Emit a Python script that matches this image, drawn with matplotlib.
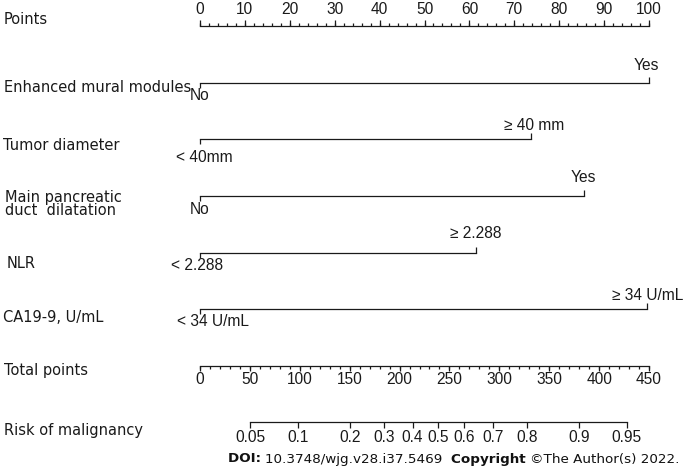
import numpy as np
import matplotlib.pyplot as plt

# nomogram content
points_ticks = np.arange(0, 101, 10)
variables = ["Enhanced mural modules", "Tumor diameter",
             "Main pancreatic\nduct  dilatation", "NLR", "CA19-9, U/mL"]
low_labels = ["No", "< 40mm", "No", "< 2.288", "< 34 U/mL"]
high_labels = ["Yes", "\u2265 40 mm", "Yes", "\u2265 2.288", "\u2265 34 U/mL"]
low_points = [0, 0, 0, 0, 0]
high_points = [100, 73.7, 85.5, 61.5, 99.5]
total_ticks = np.arange(0, 451, 50)
total_max = 450
risk_ticks = [0.05, 0.1, 0.2, 0.3, 0.4, 0.5, 0.6, 0.7, 0.8, 0.9, 0.95]
risk_labels = ["0.05", "0.1", "0.2", "0.3", "0.4", "0.5", "0.6", "0.7", "0.8", "0.9", "0.95"]
# total points = lp_center + lp_scale * logit(risk)
lp_center = 239.0
lp_scale = 64.1

# layout (pixel rows)
W, H = 683, 471
px0, px100 = 200, 649
row_y = [83, 139, 196, 253, 309]
top_dy = [-17, -14, -18, -19, -14]
bot_dy = [13, 19, 13, 13, 12]
low_dx = [0, 4, 0, -3, 13]
high_dx = [-3, 3, -1, 0, 1]
name_y = [88, 146, 204, 263, 317]
name_x = [4, 3, 5, 7, 3]

name_font = dict(family="DejaVu Sans", fontsize=10.5)
tick_font = dict(family="Liberation Sans", fontsize=11.2)
col = "#1a1a1a"
lw = 0.9

fig = plt.figure(figsize=(W / 100, H / 100), dpi=100)
ax = fig.add_axes([0, 0, 1, 1])
scale = (px100 - px0) / 100.0
ax.set_xlim(-px0 / scale, (W - px0) / scale)
ax.set_ylim(H, 0)
ax.axis("off")


def px(n):
    return n / scale


# Points axis
py = 26
ax.plot([0, 100], [py, py], color=col, lw=lw)
minor = np.arange(0, 101, 2)
ax.vlines(minor, py - 3, py, color=col, lw=lw)
ax.vlines(points_ticks, py - 6, py, color=col, lw=lw)
for t in points_ticks:
    ax.text(t, 9, str(t), ha="center", va="center", color=col, **tick_font)
ax.text(-px0 / scale + px(4), 20, "Points", ha="left", va="center", color=col, **name_font)

# variable rows
for i, name in enumerate(variables):
    y = row_y[i]
    lo, hi = low_points[i], high_points[i]
    ax.plot([lo, hi], [y, y], color=col, lw=lw)
    ax.vlines(lo, y, y + 5, color=col, lw=lw)
    ax.vlines(hi, y - 6, y, color=col, lw=lw)
    ax.text(lo + px(low_dx[i]), y + bot_dy[i], low_labels[i], ha="center", va="center",
            color=col, **tick_font)
    ax.text(hi + px(high_dx[i]), y + top_dy[i], high_labels[i], ha="center", va="center",
            color=col, **tick_font)
    ax.text(-px0 / scale + px(name_x[i]), name_y[i], name, ha="left", va="center",
            color=col, linespacing=0.9, **name_font)

# Total points axis
ty = 366
tconv = 100.0 / total_max
ax.plot([0, total_max * tconv], [ty, ty], color=col, lw=lw)
ax.vlines(np.arange(0, total_max + 1, 10) * tconv, ty, ty + 3, color=col, lw=lw)
ax.vlines(total_ticks * tconv, ty, ty + 5, color=col, lw=lw)
for t in total_ticks:
    ax.text(t * tconv, 380, str(t), ha="center", va="center", color=col, **tick_font)
ax.text(-px0 / scale + px(4), 371, "Total points", ha="left", va="center", color=col, **name_font)

# Risk axis
ry = 422
rp = np.array(risk_ticks)
rx = (lp_center + lp_scale * np.log(rp / (1 - rp))) * tconv
ax.plot([rx[0], rx[-1]], [ry, ry], color=col, lw=lw)
ax.vlines(rx, ry, ry + 6, color=col, lw=lw)
for x, lab in zip(rx, risk_labels):
    ax.text(x, 437, lab, ha="center", va="center", color=col, **tick_font)
ax.text(-px0 / scale + px(4), 431, "Risk of malignancy", ha="left", va="center", color=col, **name_font)

# source line, right aligned
pieces = [("\u00a9The Author(s) 2022.", "normal"), ("Copyright ", "bold"),
          ("10.3748/wjg.v28.i37.5469  ", "normal"), ("DOI: ", "bold")]
fig.canvas.draw()
r = fig.canvas.get_renderer()
xr = 680
for txt, wt in pieces:
    t = fig.text(xr / W, 1 - 459 / H, txt, ha="right", va="center", family="DejaVu Sans",
                 fontsize=9.7, fontweight=wt, color="#111111")
    bb = t.get_window_extent(renderer=r)
    xr = bb.x0

fig.savefig("out.png", dpi=100)
